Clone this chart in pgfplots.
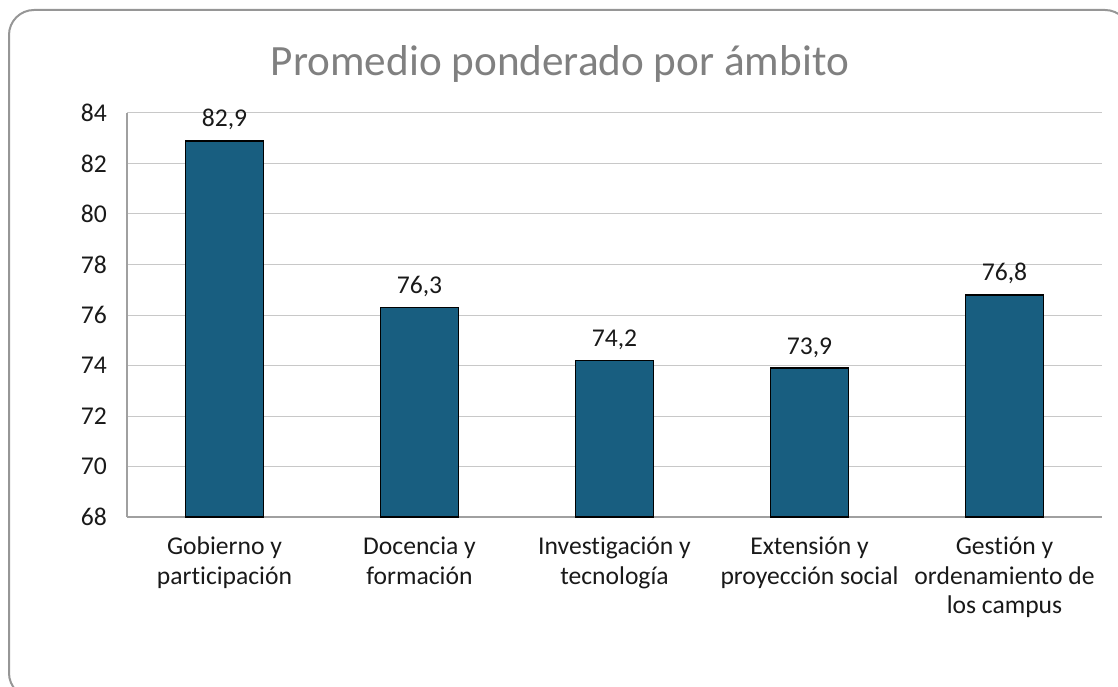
\documentclass[border=0pt]{standalone}
\usepackage{pgfplots}
\pgfplotsset{compat=1.18}
\usepackage{fontspec}
\setmainfont{Carlito}[Ligatures=NoCommon]
\definecolor{barblue}{RGB}{24,94,128}
\definecolor{gridgray}{RGB}{200,200,200}
\definecolor{axisgray}{RGB}{160,160,160}
\definecolor{titlegray}{RGB}{128,128,128}
\definecolor{framegray}{RGB}{150,150,150}
\definecolor{txt}{RGB}{25,25,25}
\begin{document}
\begin{tikzpicture}[x=0.5pt,y=0.5pt]
\useasboundingbox (0,0) rectangle (1118,686);
\draw[framegray, line width=1pt, rounded corners=12.5pt] (9,676) rectangle (1130,-12);
\node[titlegray, font=\fontsize{21.6}{26}\selectfont] at (560,622) {Promedio ponderado por ámbito};
\begin{axis}[
  at={(63.5pt,84.5pt)}, anchor=south west,
  scale only axis, width=487.5pt, height=202pt,
  ymin=68, ymax=84, ytick={68,70,...,84},
  xmin=-0.5, xmax=4.5, xtick={0,1,2,3,4},
  xticklabels={Gobierno y\\participación, Docencia y\\formación, Investigación y\\tecnología, Extensión y\\proyección social, Gestión y\\ordenamiento de\\los campus},
  x tick label style={align=center, font=\fontsize{12.8}{14.8}\selectfont, text=txt, yshift=-6.5pt},
  y tick label style={font=\fontsize{12.8}{14}\selectfont, text=txt, xshift=-6.5pt},
  major tick length=0pt,
  ymajorgrids, grid style={gridgray, line width=0.5pt},
  axis x line*=bottom, axis y line*=left,
  axis line style={axisgray, line width=0.6pt, -},
  /pgf/number format/assume math mode=true,
  ybar, bar width=0.4,
  nodes near coords,
  nodes near coords style={font=\fontsize{12.8}{14}\selectfont, text=txt, yshift=1.5pt, /pgf/number format/use comma, /pgf/number format/fixed, /pgf/number format/fixed zerofill, /pgf/number format/precision=1},
  clip=false,
]
\addplot[fill=barblue, draw=black, line width=0.9pt] coordinates {(0,82.9) (1,76.3) (2,74.2) (3,73.9) (4,76.8)};
\end{axis}
\end{tikzpicture}
\end{document}
